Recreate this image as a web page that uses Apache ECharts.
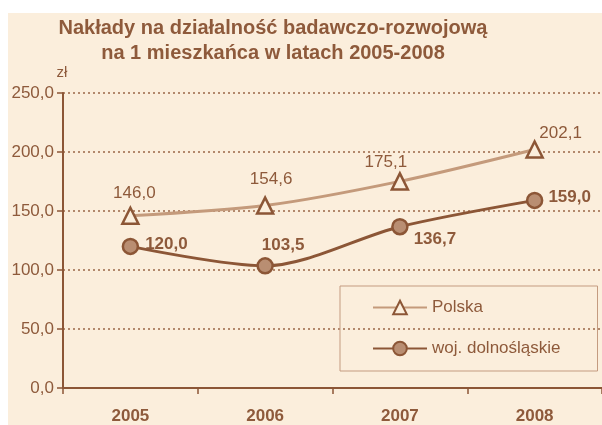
<!DOCTYPE html>
<html>
<head>
<meta charset="utf-8">
<script src="https://cdn.jsdelivr.net/npm/echarts@6/dist/echarts.min.js"></script>
<style>
  html, body { margin: 0; padding: 0; background: #ffffff; }
  #chart { width: 602px; height: 425px; }
</style>
</head>
<body>
<div id="chart"></div>
<script>
const years = ["2005", "2006", "2007", "2008"];
const polska = [146.0, 154.6, 175.1, 202.1];
const dolnoslaskie = [120.0, 103.5, 136.7, 159.0];
const polskaLabelPos = ["top", "top", "top", "top"];
const polskaLabelOffset = [[4, 0], [6, -4], [-14, 4], [26, 7]];
const dolnyLabelPos = ["right", "top", "right", "right"];
const dolnyLabelOffset = [[1, -2], [18, 2], [0, 13], [0, -3]];

const brown = "#8c5636";
const textBrown = "#8e5a3b";
const fmt = (v) => v.toFixed(1).replace(".", ",");

const chart = echarts.init(document.getElementById("chart"));

chart.setOption({
  animation: false,
  textStyle: { fontFamily: "Liberation Sans, Arial, sans-serif" },
  graphic: [
    {
      type: "rect",
      z: -10,
      silent: true,
      shape: { x: 8, y: 13, width: 594, height: 412 },
      style: { fill: "#fbeedc" },
    },
  ],
  title: {
    text: "Nakłady na działalność badawczo-rozwojową\nna 1 mieszkańca w latach 2005-2008",
    left: 268,
    textAlign: "center",
    top: 11,
    textStyle: {
      color: textBrown,
      fontSize: 20,
      fontWeight: "bold",
      lineHeight: 25,
    },
  },
  legend: {
    orient: "vertical",
    left: 340,
    top: 286,
    padding: [13, 37, 14, 32],
    itemGap: 24,
    itemWidth: 54,
    itemHeight: 17,
    borderColor: "#c49b80",
    borderWidth: 1,
    textStyle: { color: textBrown, fontSize: 17 },
    data: ["Polska", "woj. dolnośląskie"],
  },
  grid: { left: 63, right: -5, top: 93, bottom: 36, containLabel: false },
  xAxis: {
    type: "category",
    data: years,
    boundaryGap: true,
    axisLine: { lineStyle: { color: brown, width: 2 } },
    axisTick: { show: true, length: 6, lineStyle: { color: brown, width: 1.5 } },
    axisLabel: { color: textBrown, fontSize: 17, fontWeight: "bold", margin: 20 },
  },
  yAxis: {
    type: "value",
    min: 0,
    max: 250,
    interval: 50,
    name: "zł",
    nameGap: 13,
    nameTextStyle: { color: textBrown, fontSize: 15, padding: [0, 2, 0, 0] },
    axisLine: { show: true, lineStyle: { color: brown, width: 2 } },
    axisTick: { show: true, length: 6, lineStyle: { color: brown, width: 1.5 } },
    axisLabel: { color: textBrown, fontSize: 17, margin: 9, formatter: fmt },
    splitLine: { lineStyle: { color: "#9a6747", type: [2, 3], width: 1.5 } },
  },
  series: [
    {
      name: "Polska",
      type: "line",
      smooth: 0.3,
      data: polska.map((v, i) => ({
        value: v,
        label: { position: polskaLabelPos[i], offset: polskaLabelOffset[i] },
      })),
      symbol: "triangle",
      symbolSize: 16,
      lineStyle: { color: "#c49a7b", width: 3 },
      itemStyle: { color: "#fbeedc", borderColor: brown, borderWidth: 2.5 },
      label: {
        show: true,
        color: textBrown,
        fontSize: 17,
        distance: 5,
        formatter: (p) => fmt(p.value),
      },
      z: 3,
    },
    {
      name: "woj. dolnośląskie",
      type: "line",
      smooth: 0.3,
      data: dolnoslaskie.map((v, i) => ({
        value: v,
        label: { position: dolnyLabelPos[i], offset: dolnyLabelOffset[i] },
      })),
      symbol: "circle",
      symbolSize: 15,
      lineStyle: { color: brown, width: 3 },
      itemStyle: { color: "#b98e72", borderColor: brown, borderWidth: 2.5 },
      label: {
        show: true,
        color: textBrown,
        fontSize: 17,
        fontWeight: "bold",
        distance: 5,
        formatter: (p) => fmt(p.value),
      },
      z: 4,
    },
  ],
});
</script>
</body>
</html>
